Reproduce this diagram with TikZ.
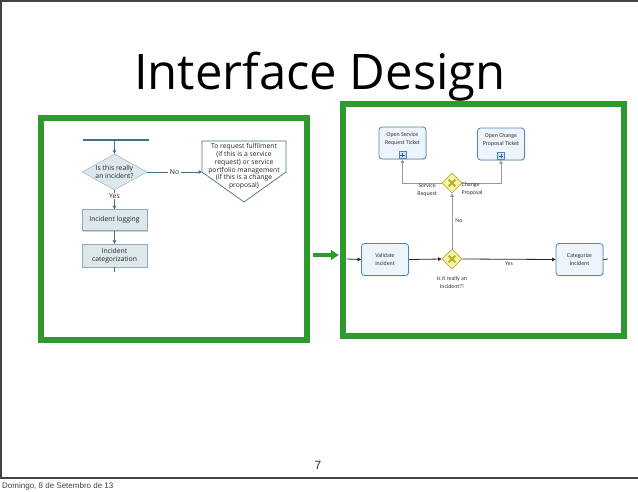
\documentclass[tikz,border=0pt]{standalone}
\usepackage{fontspec}
\setmainfont{Open Sans}
\newfontfamily\bpmnfont{Carlito}
\newfontfamily\arialfont{Liberation Sans}
\usetikzlibrary{arrows.meta,shapes.geometric,shadows}
\definecolor{slidegreen}{HTML}{2E9A2E}
\definecolor{frameline}{HTML}{444444}
\definecolor{flowline}{HTML}{3F7389}
\definecolor{flowfill}{HTML}{DCE8EC}
\definecolor{flowedge}{HTML}{8FA9B2}
\definecolor{pentedge}{HTML}{4A6F7C}
\definecolor{bpmnedge}{HTML}{4F86B5}
\definecolor{bpmnfill}{HTML}{EEF4FB}
\definecolor{plusfill}{HTML}{CFE2F3}
\definecolor{gwfill}{HTML}{F6F2A8}
\definecolor{gwedge}{HTML}{B7AD2C}
\definecolor{gwx}{HTML}{B0B028}
\definecolor{grayline}{HTML}{9A9A9A}
\tikzset{
  greenbox/.style={draw=slidegreen, line width=6.5pt, inner sep=0pt},
  greenarrow/.style={draw=slidegreen, line width=4pt, -{Triangle[length=8pt,width=10pt]}},
  flowtext/.style={font=\fontsize{6.8}{7.8}\selectfont, text=black!85, align=center},
  flowbox/.style={flowtext, draw=flowedge, fill=flowfill, minimum width=65pt, minimum height=21pt, inner sep=1pt,
    drop shadow={shadow xshift=1.2pt, shadow yshift=-1.2pt, opacity=0.35}},
  flowdia/.style={flowtext, diamond, draw=flowedge, fill=flowfill, aspect=1.8, minimum width=65pt, minimum height=36pt, inner sep=0pt},
  flowarrow/.style={draw=flowline, line width=0.9pt, -{Triangle[length=3.5pt,width=3.5pt]}},
  flowplain/.style={draw=flowline, line width=0.9pt},
  bpmntext/.style={font=\bpmnfont\fontsize{5.9}{7.3}\selectfont, text=black!80, align=center, inner sep=0pt},
  bpmnbox/.style={draw=bpmnedge, fill=bpmnfill, rounded corners=3pt, line width=0.8pt, minimum width=47pt, minimum height=32pt, inner sep=0pt,
    drop shadow={shadow xshift=0.8pt, shadow yshift=-0.8pt, opacity=0.2}},
  plusbox/.style={draw=bpmnedge, fill=plusfill, line width=0.6pt, minimum width=7pt, minimum height=7pt, inner sep=0pt,
    path picture={\draw[bpmnedge!70!black, line width=1pt]
      ([xshift=-2.3pt]path picture bounding box.center) -- ([xshift=2.3pt]path picture bounding box.center)
      ([yshift=-2.3pt]path picture bounding box.center) -- ([yshift=2.3pt]path picture bounding box.center);}},
  gateway/.style={diamond, draw=gwedge, fill=gwfill, line width=0.8pt, minimum width=20pt, minimum height=20pt, inner sep=0pt,
    path picture={\draw[gwx, line width=1.8pt]
      ([xshift=-3.3pt,yshift=-3.3pt]path picture bounding box.center) -- ([xshift=3.3pt,yshift=3.3pt]path picture bounding box.center)
      ([xshift=-3.3pt,yshift=3.3pt]path picture bounding box.center) -- ([xshift=3.3pt,yshift=-3.3pt]path picture bounding box.center);}},
  grayarrow/.style={draw=grayline, line width=0.9pt, -{Triangle[length=3.5pt,width=3.5pt,fill=black]}},
  blackarrow/.style={draw=black!85, line width=0.8pt, -{Triangle[length=3.5pt,width=3.5pt]}},
}
\begin{document}
\begin{tikzpicture}[x=1pt,y=-1pt]
\useasboundingbox[fill=white] (0,0) rectangle (638,491);
% slide frame
\coordinate (fbl) at (0.8,478);
\coordinate (ftl) at (0.8,0.8);
\coordinate (ftr) at (638,0.8);
\coordinate (fbr) at (638,478);
\draw[frameline, line width=1.5pt] (ftr) -- (ftl) -- (fbl) -- (fbr);
% title
\node[font=\fontsize{49}{52}\selectfont, anchor=base, inner sep=0pt] (title) at (320,89) {Interface Design};
% green frames
\node[greenbox, minimum width=266pt, minimum height=222pt] (lbox) at (174,229) {};
\node[greenbox, minimum width=281pt, minimum height=232pt] (rbox) at (483.5,220) {};
\draw[greenarrow] ([xshift=3pt]lbox.east |- 0,255) -- ([xshift=-1pt]rbox.west |- 0,255);
% left flowchart
\coordinate (topL) at (83,140);
\coordinate (topR) at (149,140);
\coordinate (topM) at (114.5,140);
\draw[flowline, line width=1.2pt] (topL) -- (topR);
\node[flowdia] (q) at (114.5,172) {Is this really\\an incident?};
\draw[flowarrow] (topM) -- (q.north);
\node[flowbox] (log) at (114.5,220) {Incident logging};
\node[flowbox, minimum height=23pt] (cat) at (114.5,255.5) {Incident\\categorization};
\draw[flowarrow] (q.south) -- node[pos=0.32, flowtext, fill=white, inner sep=0.5pt] (yes) {Yes} (log.north);
\draw[flowarrow] (log.south) -- (cat.north);
\coordinate (catEnd) at (114.5,272);
\draw[flowplain] (cat.south) -- (catEnd);
% pentagon
\coordinate (p1) at (202,141);
\coordinate (p2) at (286,141);
\coordinate (p3) at (286,172);
\coordinate (p4) at (244,202);
\coordinate (p5) at (202,172);
\draw[pentedge, line width=0.7pt, fill=white] (p1) -- (p2) -- (p3) -- (p4) -- (p5) -- cycle;
\node[flowtext, inner sep=0pt] (ptext) at (244,166.5) {To request fulfilment\\(if this is a service\\request) or service\\portfolio management\\(if this is a change\\proposal)};
\draw[flowarrow] (q.east) -- node[flowtext, fill=white, inner sep=1.5pt] (no1) {No} (p5);
% right BPMN
\node[bpmnbox] (osr) at (402.5,143) {};
\node[bpmntext] (osrt) at (402.5,139) {Open Service\\Request Ticket};
\node[plusbox, anchor=south] (osrp) at ([yshift=0.6pt]osr.south) {};
\node[bpmnbox] (ocp) at (501,144) {};
\node[bpmntext] (ocpt) at (501,140) {Open Change\\Proposal Ticket};
\node[plusbox, anchor=south] (ocpp) at ([yshift=0.6pt]ocp.south) {};
\node[gateway] (g1) at (452,183) {};
\node[gateway] (g2) at (452,259) {};
\node[bpmnbox] (val) at (385,259.5) {};
\node[bpmntext] (valt) at (385,259.5) {Validate\\Incident};
\node[bpmnbox] (cat2) at (579.5,259.5) {};
\node[bpmntext] (cat2t) at (579.5,259.5) {Categorize\\Incident};
\draw[grayarrow] (g1.west) -| (osr.south);
\draw[grayarrow] (g1.east) -| (ocp.south);
\draw[grayarrow] (g2.north) -- node[bpmntext, right=3pt, pos=0.5] (nolab) {No} (g1.south);
\coordinate (inR) at (347,259);
\draw[blackarrow] (inR) -- (val.west);
\draw[blackarrow] (val.east) -- (g2.west);
\draw[blackarrow] (g2.east) -- node[bpmntext, below=2pt] (yeslab) {Yes} (cat2.west);
\coordinate (outR) at (608,259);
\draw[draw=black!85, line width=0.8pt] (cat2.east) -- (outR);
\node[bpmntext, anchor=east] (srlab) at (437,190) {Service\\Request};
\node[bpmntext, anchor=west, align=left] (cplab) at (461.5,189) {Change\\Proposal};
\node[bpmntext] (isit) at (452,282.5) {Is it really an\\Incident?!};
% page number and footer
\node[font=\arialfont\fontsize{12}{14}\selectfont, text=black!85, anchor=base, inner sep=0pt] (pnum) at (318,469) {7};
\node[font=\arialfont\fontsize{8}{9}\selectfont, text=black!75, anchor=base west, inner sep=0pt] (foot) at (2,488) {Domingo, 8 de Setembro de 13};
\end{tikzpicture}
\end{document}
